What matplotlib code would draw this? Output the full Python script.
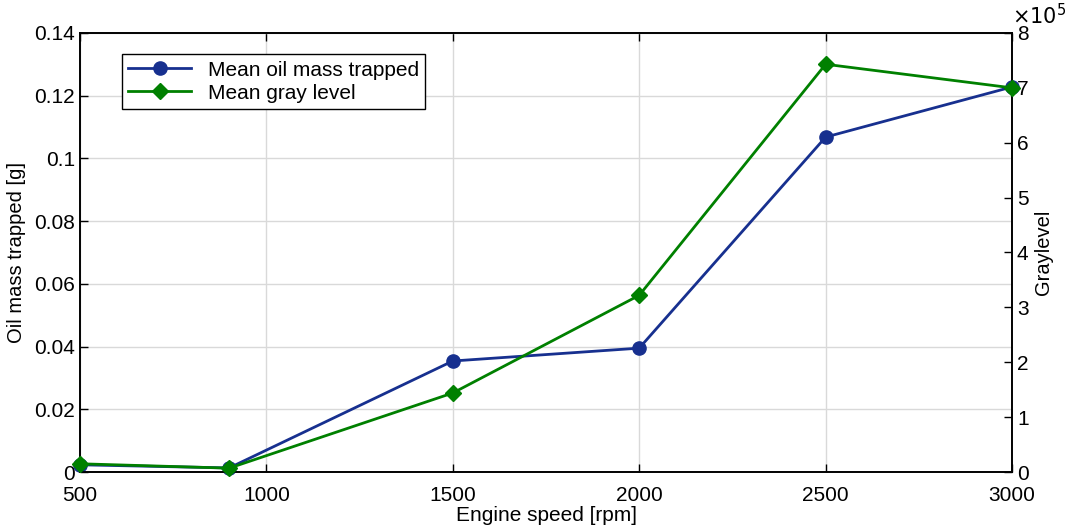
import matplotlib.pyplot as plt
from matplotlib.ticker import FuncFormatter

plt.rcParams['font.family'] = ['Liberation Sans', 'DejaVu Sans']

# engine speed [rpm]
speed = [500, 900, 1500, 2000, 2500, 3000]
# mean oil mass trapped [g]
oil_mass = [0.0023, 0.0013, 0.0354, 0.0395, 0.1068, 0.1228]
# mean gray level
gray_level = [0.15e5, 0.07e5, 1.44e5, 3.22e5, 7.43e5, 7.0e5]

blue = '#17308f'
green = '#008000'

fig = plt.figure(figsize=(10.68, 5.31), dpi=100)
ax = fig.add_axes([0.0749, 0.1111, 0.8727, 0.8268])
ax2 = ax.twinx()

l1, = ax.plot(speed, oil_mass, color=blue, lw=2, marker='o', ms=9.5,
              label='Mean oil mass trapped', clip_on=False, zorder=3)
l2, = ax2.plot(speed, gray_level, color=green, lw=2, marker='D', ms=8.5,
               label='Mean gray level', clip_on=False, zorder=3)

ax.set_xlim(500, 3000)
ax.set_ylim(0, 0.14)
ax.set_xticks(range(500, 3001, 500))
ax.set_yticks([0, 0.02, 0.04, 0.06, 0.08, 0.1, 0.12, 0.14])
ax.yaxis.set_major_formatter(FuncFormatter(lambda v, p: '%g' % round(v, 4)))
ax2.set_ylim(0, 8e5)
ax2.set_yticks([i * 1e5 for i in range(9)])
ax2.yaxis.set_major_formatter(FuncFormatter(lambda v, p: '%g' % round(v / 1e5, 3)))
ax2.text(1.0, 1.01, r'$\times10^5$', transform=ax2.transAxes, fontsize=15,
         ha='left', va='bottom')

ax.grid(True, color='#d9d9d9', lw=1)
ax.set_axisbelow(True)
for a in (ax, ax2):
    a.tick_params(direction='in', labelsize=15, length=6, width=1.0, top=False)
    for s in a.spines.values():
        s.set_linewidth(1.2)
ax.tick_params(top=True)
ax.tick_params(axis='x', pad=10)

ax.set_xlabel('Engine speed [rpm]', fontsize=15, labelpad=1)
ax.set_ylabel('Oil mass trapped [g]', fontsize=14.5, labelpad=6)
ax2.set_ylabel('Graylevel', fontsize=14.5)

ax2.legend([l1, l2], [l1.get_label(), l2.get_label()], loc='upper left',
           bbox_to_anchor=(0.034, 0.975), fontsize=15, frameon=True, fancybox=False,
           edgecolor='black', borderpad=0.3, handlelength=3, labelspacing=0.2,
           framealpha=1)

fig.savefig('out.png')
